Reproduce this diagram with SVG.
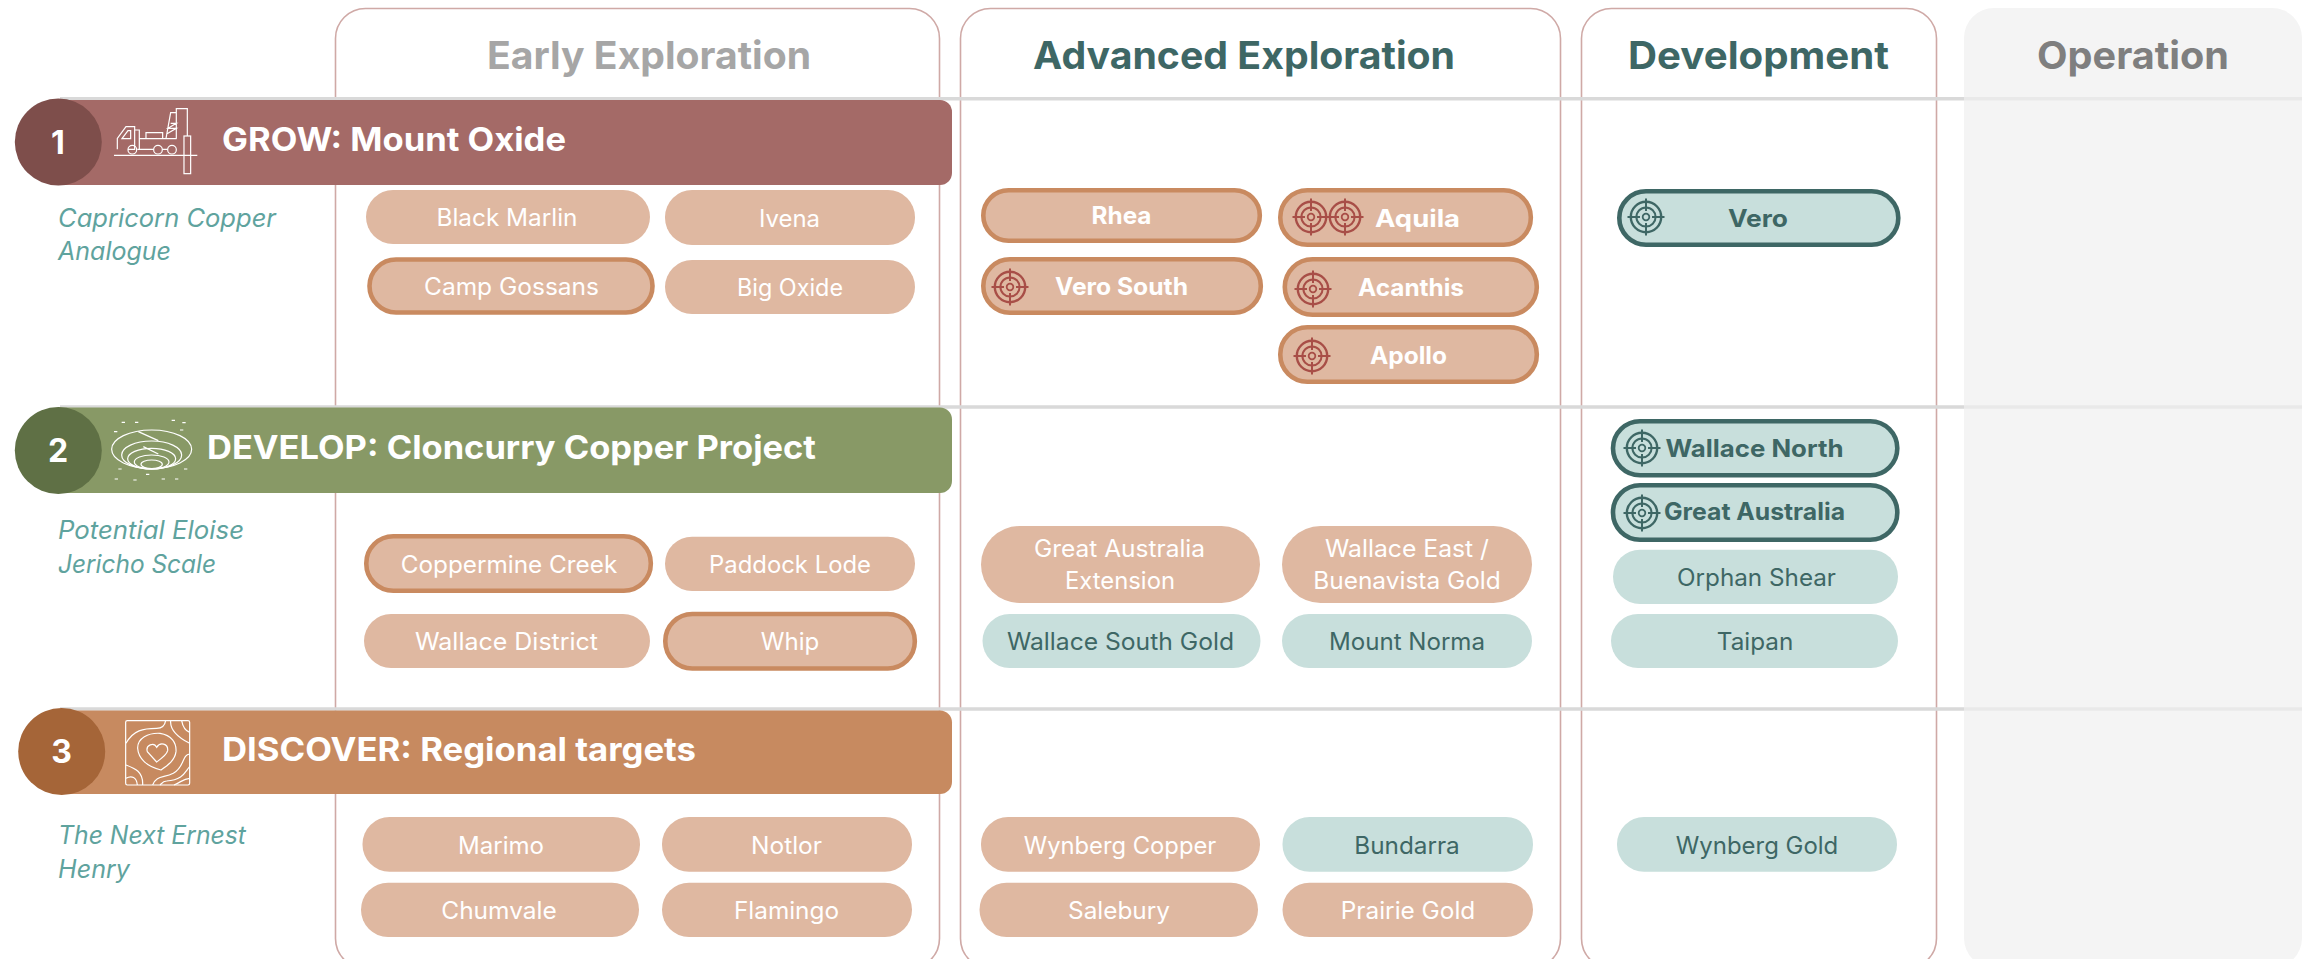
<svg xmlns="http://www.w3.org/2000/svg" xmlns:xlink="http://www.w3.org/1999/xlink" width="2302" height="959" viewBox="0 0 2302 959">
<style>
text{font-family:Inter,"Open Sans","Liberation Sans",sans-serif;text-anchor:middle}
.col{fill:#fff;stroke:#CFA9A6;stroke-width:1.6}
.grid{stroke:#D9D9D9;stroke-width:3.4;fill:none}
.h{font-size:38px;font-weight:700}
.ti{font-size:32.500px;font-weight:700;fill:#fff}
.n{font-size:32px;font-weight:700;fill:#fff}
.sub{font-size:25px;font-style:italic;fill:#5FA39E;text-anchor:start}
.cu{fill:#DFB8A1}
.cuo{fill:#DFB8A1;stroke:#C98A60;stroke-width:4.6}
.te{fill:#C8DFDC}
.teo{fill:#C8DFDC;stroke:#3E6765;stroke-width:4.6}
.w{font-size:24px;fill:#fff}
.d{font-size:24px;fill:#3E6765}
.wb{font-size:24px;fill:#fff;font-weight:700}
.db{font-size:24px;fill:#3E6765;font-weight:700}
.ico{fill:none;stroke:#fff;stroke-width:3.600}
.tr{fill:none;stroke:#A84E47}
.tg{fill:none;stroke:#3E6765}
</style>
<defs>
<g id="target" stroke-width="2">
<circle r="15.2" stroke-width="2.4"/><circle r="9.6" stroke-width="2"/><circle r="3.3" stroke-width="1.8"/>
<path d="M0-18.5V-6M0 6V18.5M-18.5 0H-6M6 0H18.5" stroke-width="2"/>
</g>
</defs>

<g id="columns">
<rect id="col-early" class="col" x="335.5" y="8.5" width="604" height="960" rx="30"/>
<rect id="col-advanced" class="col" x="960.5" y="8.5" width="600" height="960" rx="30"/>
<rect id="col-development" class="col" x="1581.5" y="8.5" width="355" height="960" rx="30"/>
<rect id="col-operation" x="1964" y="8" width="338" height="960" rx="30" fill="#F4F4F4"/>
<text class="h" x="649" y="69" fill="#A6A6A6" textLength="324" lengthAdjust="spacingAndGlyphs">Early Exploration</text>
<text class="h" x="1244" y="69" fill="#3E6765" textLength="422" lengthAdjust="spacingAndGlyphs">Advanced Exploration</text>
<text class="h" x="1758.500" y="69" fill="#3E6765" textLength="261" lengthAdjust="spacingAndGlyphs">Development</text>
<text class="h" x="2133" y="69" fill="#7F7F7F" textLength="192" lengthAdjust="spacingAndGlyphs">Operation</text>
</g>

<g id="gridlines">
<path class="grid" d="M60 98.700H1964M60 407H1964M60 709H1964"/>
<path class="grid" style="stroke:#E9E9E9" d="M1964 98.700H2302M1964 407H2302M1964 709H2302"/>
</g>

<g id="band-1">
<path d="M58 100H940a12 12 0 0 1 12 12V173a12 12 0 0 1-12 12H58Z" fill="#A46A67"/>
<circle cx="58.300" cy="142" r="43.500" fill="#7E4E4B"/>
<text class="n" x="58" y="154">1</text>
<g class="ico" transform="translate(0 90) scale(.3333)">
<path d="M342 196H592M352 178V145L378 110H404V178H384M366 146L384 122H392V146ZM404 120H418V178M418 146H530M412 178H461M487 178H503M438 145V128H488V145M529 146V56H562V138M529 68H512L498 146M512 100H529L504 115H529L500 132"/>
<circle cx="397" cy="179" r="13"/><circle cx="474" cy="179" r="13"/><circle cx="516" cy="179" r="13"/>
<rect x="552" y="138" width="20" height="113"/>
</g>
<text class="ti" x="394" y="151" textLength="344" lengthAdjust="spacingAndGlyphs">GROW: Mount Oxide</text>
<text class="sub" x="58" y="226.700" textLength="218" lengthAdjust="spacingAndGlyphs">Capricorn Copper</text>
<text class="sub" x="58" y="260" textLength="113" lengthAdjust="spacingAndGlyphs">Analogue</text>
</g>

<g id="band-2">
<path d="M58 407.500H940a12 12 0 0 1 12 12V481a12 12 0 0 1-12 12H58Z" fill="#889966"/>
<circle cx="58.300" cy="450.500" r="43.500" fill="#5F7045"/>
<text class="n" x="58" y="462">2</text>
<g class="ico" transform="translate(0 400) scale(.3333)">
<ellipse cx="455" cy="148" rx="120" ry="58"/><ellipse cx="455" cy="165" rx="90" ry="42"/><ellipse cx="455" cy="176" rx="72" ry="31"/><ellipse cx="455" cy="186" rx="52" ry="21"/><ellipse cx="455" cy="193" rx="32" ry="13"/>
<path d="M415 95L475 122M430 140L475 162M365 67h10M405 67h10M515 61h10M547 68h10M342 95h10M540 90h10M355 207h10M552 207h10M438 223h10M344 237h10M400 240h10M485 237h10M525 237h10"/>
</g>
<text class="ti" x="511.500" y="459" textLength="609" lengthAdjust="spacingAndGlyphs">DEVELOP: Cloncurry Copper Project</text>
<text class="sub" x="58" y="539.300" textLength="186" lengthAdjust="spacingAndGlyphs">Potential Eloise</text>
<text class="sub" x="58" y="573" textLength="158" lengthAdjust="spacingAndGlyphs">Jericho Scale</text>
</g>

<g id="band-3">
<path d="M62 710.500H940a12 12 0 0 1 12 12V782a12 12 0 0 1-12 12H62Z" fill="#C78A60"/>
<circle cx="61.700" cy="751.500" r="43.500" fill="#A56538"/>
<text class="n" x="61.500" y="763">3</text>
<g class="ico" transform="translate(0 700) scale(.3333)">
<rect x="377" y="62" width="192" height="193" rx="5"/>
<path d="M470 186L442 155C436 135 462 125 470 142C480 125 505 130 503 152C500 165 485 175 470 186ZM483 210C440 200 415 175 413 145C412 115 445 98 480 100C515 105 530 130 528 155C525 180 505 195 483 210ZM378 130C400 90 430 85 470 85C490 85 495 75 497 62M512 62C510 85 530 110 569 130M545 62C548 78 555 92 569 97M378 195C405 205 430 215 428 255M378 235C395 225 410 232 412 255M569 162C545 165 555 200 520 220C490 235 470 225 458 255M569 200C555 215 550 240 500 243C490 243 485 250 480 255M569 235C550 237 545 245 522 255"/>
</g>
<text class="ti" x="459" y="761" textLength="474" lengthAdjust="spacingAndGlyphs">DISCOVER: Regional targets</text>
<text class="sub" x="58" y="843.700" textLength="188" lengthAdjust="spacingAndGlyphs">The Next Ernest</text>
<text class="sub" x="58" y="878" textLength="72" lengthAdjust="spacingAndGlyphs">Henry</text>
</g>

<g id="black-marlin"><rect class="cu" x="366" y="190" width="284" height="54" rx="27"/><text class="w" x="507" y="226" textLength="141" lengthAdjust="spacingAndGlyphs">Black Marlin</text></g>
<g id="ivena"><rect class="cu" x="665" y="190" width="250" height="55" rx="27"/><text class="w" x="789.500" y="227" textLength="61" lengthAdjust="spacingAndGlyphs">Ivena</text></g>
<g id="camp-gossans"><rect class="cuo" x="369.500" y="259.500" width="283" height="53" rx="26.500"/><text class="w" x="511.500" y="295" textLength="175" lengthAdjust="spacingAndGlyphs">Camp Gossans</text></g>
<g id="big-oxide"><rect class="cu" x="665" y="260" width="250" height="54" rx="27"/><text class="w" x="790" y="296" textLength="106" lengthAdjust="spacingAndGlyphs">Big Oxide</text></g>

<g id="rhea"><rect class="cuo" x="983.300" y="190.300" width="276.500" height="50.500" rx="25.200"/><text class="wb" x="1121.500" y="224" textLength="60" lengthAdjust="spacingAndGlyphs">Rhea</text></g>
<g id="aquila"><rect class="cuo" x="1280.300" y="190.300" width="250.500" height="54.500" rx="27"/><use href="#target" class="tr" x="1311" y="217"/><use href="#target" class="tr" x="1345" y="217"/><text class="wb" x="1417.500" y="226.700" textLength="85" lengthAdjust="spacingAndGlyphs">Aquila</text></g>
<g id="vero-south"><rect class="cuo" x="983.300" y="259.300" width="277.500" height="53.500" rx="26.700"/><use href="#target" class="tr" x="1010" y="287"/><text class="wb" x="1121.500" y="295" textLength="133" lengthAdjust="spacingAndGlyphs">Vero South</text></g>
<g id="acanthis"><rect class="cuo" x="1284.800" y="259.300" width="252" height="55.500" rx="27.700"/><use href="#target" class="tr" x="1313" y="289"/><text class="wb" x="1411" y="296" textLength="106" lengthAdjust="spacingAndGlyphs">Acanthis</text></g>
<g id="apollo"><rect class="cuo" x="1280.300" y="327.300" width="256.500" height="54.500" rx="27"/><use href="#target" class="tr" x="1312" y="356"/><text class="wb" x="1408.500" y="364" textLength="77" lengthAdjust="spacingAndGlyphs">Apollo</text></g>

<g id="vero"><rect class="teo" x="1619.300" y="191.300" width="279" height="53.500" rx="26.700"/><use href="#target" class="tg" x="1646" y="217"/><text class="db" x="1758" y="226.700" textLength="60" lengthAdjust="spacingAndGlyphs">Vero</text></g>

<g id="coppermine-creek"><rect class="cuo" x="366.300" y="536.300" width="284.500" height="54.500" rx="27"/><text class="w" x="509" y="572.700" textLength="216.500" lengthAdjust="spacingAndGlyphs">Coppermine Creek</text></g>
<g id="paddock-lode"><rect class="cu" x="665" y="536.700" width="250" height="54.300" rx="27"/><text class="w" x="790" y="572.700" textLength="162" lengthAdjust="spacingAndGlyphs">Paddock Lode</text></g>
<g id="wallace-district"><rect class="cu" x="364" y="614" width="286" height="54" rx="27"/><text class="w" x="506.500" y="649.700" textLength="183" lengthAdjust="spacingAndGlyphs">Wallace District</text></g>
<g id="whip"><rect class="cuo" x="665.300" y="614" width="249.500" height="54.500" rx="27"/><text class="w" x="790" y="650" textLength="58.500" lengthAdjust="spacingAndGlyphs">Whip</text></g>

<g id="great-australia-extension"><rect class="cu" x="981" y="526" width="279" height="77" rx="38.500"/><text class="w" x="1119.500" y="557" textLength="171" lengthAdjust="spacingAndGlyphs">Great Australia</text><text class="w" x="1120" y="588.700" textLength="110" lengthAdjust="spacingAndGlyphs">Extension</text></g>
<g id="wallace-east"><rect class="cu" x="1282" y="526" width="250" height="77" rx="38.500"/><text class="w" x="1407" y="557" textLength="164" lengthAdjust="spacingAndGlyphs">Wallace East /</text><text class="w" x="1407" y="588.700" textLength="187.500" lengthAdjust="spacingAndGlyphs">Buenavista Gold</text></g>
<g id="wallace-south-gold"><rect class="te" x="982.500" y="614" width="278" height="54" rx="27"/><text class="d" x="1120.500" y="650" textLength="227" lengthAdjust="spacingAndGlyphs">Wallace South Gold</text></g>
<g id="mount-norma"><rect class="te" x="1282" y="614" width="250" height="54" rx="27"/><text class="d" x="1407" y="650" textLength="156" lengthAdjust="spacingAndGlyphs">Mount Norma</text></g>

<g id="wallace-north"><rect class="teo" x="1613" y="421.300" width="284.300" height="54" rx="27"/><use href="#target" class="tg" x="1642" y="448"/><text class="db" x="1754.500" y="457" textLength="178" lengthAdjust="spacingAndGlyphs">Wallace North</text></g>
<g id="great-australia"><rect class="teo" x="1613" y="485.300" width="284.300" height="54.400" rx="27"/><use href="#target" class="tg" x="1642" y="513"/><text class="db" x="1754.500" y="520" textLength="181" lengthAdjust="spacingAndGlyphs">Great Australia</text></g>
<g id="orphan-shear"><rect class="te" x="1613" y="549.700" width="285" height="54.300" rx="27"/><text class="d" x="1756.500" y="585.700" textLength="159" lengthAdjust="spacingAndGlyphs">Orphan Shear</text></g>
<g id="taipan"><rect class="te" x="1611" y="614" width="287" height="54" rx="27"/><text class="d" x="1755" y="650" textLength="76.500" lengthAdjust="spacingAndGlyphs">Taipan</text></g>

<g id="marimo"><rect class="cu" x="362.500" y="817" width="277.500" height="54.700" rx="27"/><text class="w" x="501" y="853.700" textLength="86" lengthAdjust="spacingAndGlyphs">Marimo</text></g>
<g id="notlor"><rect class="cu" x="662" y="817" width="250" height="54.700" rx="27"/><text class="w" x="786.500" y="853.700" textLength="71" lengthAdjust="spacingAndGlyphs">Notlor</text></g>
<g id="chumvale"><rect class="cu" x="361" y="882.700" width="278" height="54.300" rx="27"/><text class="w" x="499" y="918.700" textLength="115.500" lengthAdjust="spacingAndGlyphs">Chumvale</text></g>
<g id="flamingo"><rect class="cu" x="662" y="882.700" width="250" height="54.300" rx="27"/><text class="w" x="786.500" y="918.700" textLength="105" lengthAdjust="spacingAndGlyphs">Flamingo</text></g>

<g id="wynberg-copper"><rect class="cu" x="981" y="817" width="279" height="54.700" rx="27"/><text class="w" x="1120" y="853.700" textLength="192.500" lengthAdjust="spacingAndGlyphs">Wynberg Copper</text></g>
<g id="bundarra"><rect class="te" x="1282.500" y="817" width="250.500" height="54.700" rx="27"/><text class="d" x="1407" y="853.700" textLength="105.500" lengthAdjust="spacingAndGlyphs">Bundarra</text></g>
<g id="wynberg-gold"><rect class="te" x="1617" y="817" width="280" height="54.700" rx="27"/><text class="d" x="1757" y="853.700" textLength="162.500" lengthAdjust="spacingAndGlyphs">Wynberg Gold</text></g>
<g id="salebury"><rect class="cu" x="979.500" y="882.700" width="278.500" height="54.300" rx="27"/><text class="w" x="1119" y="918.700" textLength="102" lengthAdjust="spacingAndGlyphs">Salebury</text></g>
<g id="prairie-gold"><rect class="cu" x="1282.500" y="882.700" width="250.500" height="54.300" rx="27"/><text class="w" x="1408" y="918.700" textLength="134.500" lengthAdjust="spacingAndGlyphs">Prairie Gold</text></g>
</svg>
